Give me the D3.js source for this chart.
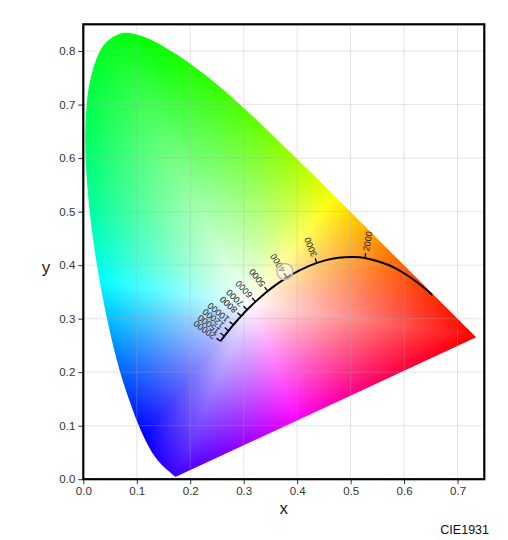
<!DOCTYPE html>
<html>
<head>
<meta charset="utf-8">
<script src="https://cdn.jsdelivr.net/npm/d3@7"></script>
<style>
	body { margin: 0; background: #fff; }
	svg { font-family: "Liberation Sans", Arial, sans-serif; }
</style>
</head>
<body>
<div id="chart"></div>
<script>
// CIE 1931 2-degree spectral locus, 380-700 nm every 5 nm
let locusX = [0.1741, 0.1740, 0.1738, 0.1736, 0.1733, 0.1730, 0.1726, 0.1721, 0.1714, 0.1703,
	0.1689, 0.1669, 0.1644, 0.1611, 0.1566, 0.1510, 0.1440, 0.1355, 0.1241, 0.1096,
	0.0913, 0.0687, 0.0454, 0.0235, 0.0082, 0.0039, 0.0139, 0.0389, 0.0743, 0.1142,
	0.1547, 0.1929, 0.2296, 0.2658, 0.3016, 0.3373, 0.3731, 0.4087, 0.4441, 0.4788,
	0.5125, 0.5448, 0.5752, 0.6029, 0.6270, 0.6482, 0.6658, 0.6801, 0.6915, 0.7006,
	0.7079, 0.7140, 0.7190, 0.7230, 0.7260, 0.7283, 0.7300, 0.7311, 0.7320, 0.7327,
	0.7334, 0.7340, 0.7344, 0.7346, 0.7347];
let locusY = [0.0050, 0.0050, 0.0049, 0.0049, 0.0048, 0.0048, 0.0048, 0.0048, 0.0051, 0.0058,
	0.0069, 0.0086, 0.0109, 0.0138, 0.0177, 0.0227, 0.0297, 0.0399, 0.0578, 0.0868,
	0.1327, 0.2007, 0.2950, 0.4127, 0.5384, 0.6548, 0.7502, 0.8120, 0.8338, 0.8262,
	0.8059, 0.7816, 0.7543, 0.7243, 0.6923, 0.6589, 0.6245, 0.5896, 0.5547, 0.5202,
	0.4866, 0.4544, 0.4242, 0.3965, 0.3725, 0.3514, 0.3340, 0.3197, 0.3083, 0.2993,
	0.2920, 0.2859, 0.2809, 0.2770, 0.2740, 0.2717, 0.2700, 0.2689, 0.2680, 0.2673,
	0.2666, 0.2660, 0.2656, 0.2654, 0.2653];

// white point used for the colour fill
let whitePoint = [0.3127, 0.3290];

// Planckian locus (K, x, y)
let planckT = [1000, 1200, 1400, 1500, 1600, 1800, 2000, 2200, 2500, 2800, 3000, 3500, 4000,
	4500, 5000, 5500, 6000, 6500, 7000, 8000, 9000, 10000, 12000, 15000, 20000];
let planckX = [0.6528, 0.6251, 0.5985, 0.5857, 0.5732, 0.5492, 0.5267, 0.5056, 0.4770, 0.4524,
	0.4369, 0.4053, 0.3805, 0.3608, 0.3451, 0.3325, 0.3221, 0.3135, 0.3064, 0.2952,
	0.2869, 0.2807, 0.2719, 0.2637, 0.2565];
let planckY = [0.3444, 0.3674, 0.3858, 0.3931, 0.3993, 0.4078, 0.4133, 0.4152, 0.4137, 0.4089,
	0.4041, 0.3907, 0.3768, 0.3636, 0.3516, 0.3411, 0.3318, 0.3236, 0.3166, 0.3048,
	0.2956, 0.2884, 0.2776, 0.2674, 0.2577];
let labelTemps = [2000, 3000, 4000, 5000, 6000, 7000, 8000, 10000, 12000, 15000, 20000];

let markerPoint = [0.377, 0.388];

let xTicks = [0, 0.1, 0.2, 0.3, 0.4, 0.5, 0.6, 0.7];
let yTicks = [0, 0.1, 0.2, 0.3, 0.4, 0.5, 0.6, 0.7, 0.8];

let width = 508;
let height = 540;
let plotLeft = 83.3, plotRight = 484.3, plotTop = 24.3, plotBottom = 479.2;

let xScale = d3.scaleLinear().domain([0, 0.75]).range([plotLeft, plotRight]);
let yScale = d3.scaleLinear().domain([0, 0.85]).range([plotBottom, plotTop]);

let svg = d3.select('#chart')
	.append('svg')
	.attr('width', width)
	.attr('height', height);

let locus = locusX.map((v, i) => [v, locusY[i]]);

// edge distance from the white point for each direction (ray cast on the gamut outline)
let nBins = 1440;
let poly = locus.concat([locus[0]]);
let edgeDist = new Float64Array(nBins);
for (let k = 0; k < nBins; k++) {
	let a = k / nBins * 2 * Math.PI;
	let dx = Math.cos(a), dy = Math.sin(a);
	let best = Infinity;
	for (let s = 0; s < poly.length - 1; s++) {
		let p = poly[s], q = poly[s + 1];
		let ex = q[0] - p[0], ey = q[1] - p[1];
		let den = dx * ey - dy * ex;
		if (Math.abs(den) < 1e-12) continue;
		let wx = p[0] - whitePoint[0], wy = p[1] - whitePoint[1];
		let t = (wx * ey - wy * ex) / den;
		let u = (wx * dy - wy * dx) / den;
		if (t > 0 && u >= 0 && u <= 1 && t < best) best = t;
	}
	edgeDist[k] = best;
}
let redAngle = Math.atan2(locusY[locusY.length - 1] - whitePoint[1], locusX[locusX.length - 1] - whitePoint[0]);

// colour fill: hue from the direction around the white point, saturation from distance to the edge
let ss = 2;
let cw = Math.round((plotRight - plotLeft) * ss), ch = Math.round((plotBottom - plotTop) * ss);
let canvas = document.createElement('canvas');
canvas.width = cw;
canvas.height = ch;
let ctx = canvas.getContext('2d');
let img = ctx.createImageData(cw, ch);

function hueRGB(h) {
	h = ((h % 360) + 360) % 360 / 60;
	let x = 1 - Math.abs(h % 2 - 1);
	if (h < 1) return [1, x, 0];
	if (h < 2) return [x, 1, 0];
	if (h < 3) return [0, 1, x];
	if (h < 4) return [0, x, 1];
	if (h < 5) return [x, 0, 1];
	return [1, 0, x];
}

for (let j = 0; j < ch; j++) {
	let cy = yScale.invert(plotTop + (j + 0.5) / ss);
	for (let i = 0; i < cw; i++) {
		let cx = xScale.invert(plotLeft + (i + 0.5) / ss);
		let dx = cx - whitePoint[0], dy = cy - whitePoint[1];
		let a = Math.atan2(dy, dx);
		let ang = a < 0 ? a + 2 * Math.PI : a;
		let bin = Math.floor(ang / (2 * Math.PI) * nBins) % nBins;
		let f = Math.min(1, Math.hypot(dx, dy) / edgeDist[bin]);
		let c = hueRGB((a - redAngle) * 180 / Math.PI);
		let k = (j * cw + i) * 4;
		img.data[k] = 255 * (1 - f + f * c[0]);
		img.data[k + 1] = 255 * (1 - f + f * c[1]);
		img.data[k + 2] = 255 * (1 - f + f * c[2]);
		img.data[k + 3] = 255;
	}
}
ctx.putImageData(img, 0, 0);

let locusLine = d3.line()
	.x(d => xScale(d[0]))
	.y(d => yScale(d[1]))
	.curve(d3.curveCatmullRom);

svg.append('clipPath')
	.attr('id', 'gamut')
	.append('path')
	.attr('d', locusLine(locus) + 'Z');

svg.append('image')
	.attr('x', plotLeft)
	.attr('y', plotTop)
	.attr('width', plotRight - plotLeft)
	.attr('height', plotBottom - plotTop)
	.attr('preserveAspectRatio', 'none')
	.attr('href', canvas.toDataURL())
	.attr('clip-path', 'url(#gamut)');

// grid
svg.append('g')
	.selectAll('line')
	.data(xTicks.slice(1))
	.enter()
	.append('line')
	.attr('x1', d => xScale(d)).attr('x2', d => xScale(d))
	.attr('y1', plotTop).attr('y2', plotBottom)
	.attr('stroke', 'rgba(170,170,170,0.3)');

svg.append('g')
	.selectAll('line')
	.data(yTicks.slice(1))
	.enter()
	.append('line')
	.attr('x1', plotLeft).attr('x2', plotRight)
	.attr('y1', d => yScale(d)).attr('y2', d => yScale(d))
	.attr('stroke', 'rgba(170,170,170,0.3)');

// Planckian locus
let planck = planckT.map((t, i) => [planckX[i], planckY[i]]);
svg.append('path')
	.attr('d', d3.line().x(d => xScale(d[0])).y(d => yScale(d[1])).curve(d3.curveCatmullRom)(planck))
	.attr('fill', 'none')
	.attr('stroke', '#000')
	.attr('stroke-width', 2);

let tickLen = 5;
let locusTicks = labelTemps.map(t => {
	let i = planckT.indexOf(t);
	let a = planck[Math.max(i - 1, 0)], b = planck[Math.min(i + 1, planck.length - 1)];
	// tangent from high T to low T in screen coords
	let tx = xScale(a[0]) - xScale(b[0]), ty = yScale(a[1]) - yScale(b[1]);
	let len = Math.hypot(tx, ty);
	tx /= len; ty /= len;
	let nx = ty, ny = -tx;
	return {
		t: t,
		px: xScale(planck[i][0]),
		py: yScale(planck[i][1]),
		nx: nx,
		ny: ny,
		angle: Math.atan2(ny, nx) * 180 / Math.PI
	};
});

let lt = svg.append('g')
	.selectAll('g')
	.data(locusTicks)
	.enter()
	.append('g');

lt.append('line')
	.attr('x1', d => d.px).attr('y1', d => d.py)
	.attr('x2', d => d.px + d.nx * tickLen).attr('y2', d => d.py + d.ny * tickLen)
	.attr('stroke', '#000')
	.attr('stroke-width', 1.3);

lt.append('text')
	.attr('transform', d => `translate(${d.px + d.nx * (tickLen + 2)},${d.py + d.ny * (tickLen + 2)}) rotate(${d.angle})`)
	.attr('dominant-baseline', 'central')
	.style('font-size', '9px')
	.attr('fill', '#222')
	.text(d => d.t);

// small marker
svg.append('circle')
	.attr('cx', xScale(markerPoint[0]))
	.attr('cy', yScale(markerPoint[1]))
	.attr('r', 8)
	.attr('fill', 'rgba(255,255,255,0.45)')
	.attr('stroke', '#bbb')
	.attr('stroke-width', 1.5);

// axes
let xAxis = svg.append('g')
	.attr('transform', `translate(0,${plotBottom})`)
	.call(d3.axisBottom(xScale).tickValues(xTicks).tickFormat(d3.format('.1f')).tickSize(5).tickPadding(3));
let yAxis = svg.append('g')
	.attr('transform', `translate(${plotLeft},0)`)
	.call(d3.axisLeft(yScale).tickValues(yTicks).tickFormat(d3.format('.1f')).tickSize(5).tickPadding(3));

[xAxis, yAxis].forEach(a => {
	a.select('.domain').remove();
	a.selectAll('text').style('font-size', '11.5px').style('font-family', '"Liberation Sans", Arial, sans-serif').attr('fill', '#333');
	a.selectAll('line').attr('stroke', '#333');
});

// frame
svg.append('rect')
	.attr('x', plotLeft).attr('y', plotTop)
	.attr('width', plotRight - plotLeft).attr('height', plotBottom - plotTop)
	.attr('fill', 'none')
	.attr('stroke', '#000')
	.attr('stroke-width', 2.2);

// labels
svg.append('text')
	.attr('x', (plotLeft + plotRight) / 2)
	.attr('y', 514)
	.style('text-anchor', 'middle')
	.style('font-size', '17px')
	.attr('fill', '#222')
	.text('x');

svg.append('text')
	.attr('x', 46)
	.attr('y', 273)
	.style('text-anchor', 'middle')
	.style('font-size', '17px')
	.attr('fill', '#222')
	.text('y');

svg.append('text')
	.attr('x', 489)
	.attr('y', 534)
	.style('text-anchor', 'end')
	.style('font-size', '12.5px')
	.attr('fill', '#111')
	.text('CIE1931');
</script>
</body>
</html>
